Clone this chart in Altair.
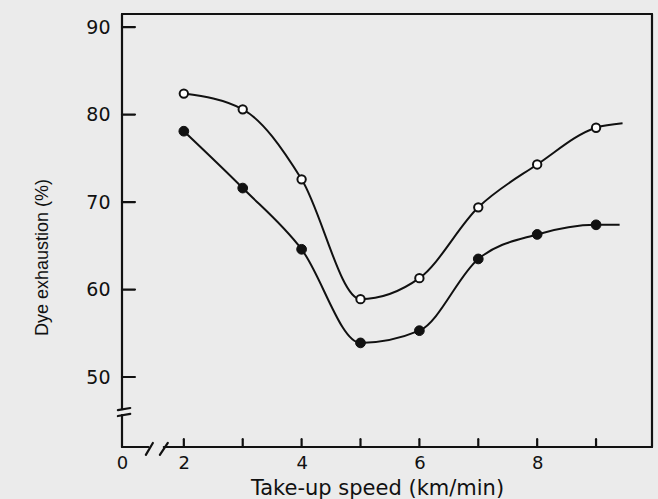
import altair as alt
import pandas as pd

# ---- data ----
speed = [2, 3, 4, 5, 6, 7, 8, 9]
open_vals = [82.4, 80.6, 72.6, 58.9, 61.3, 69.4, 74.3, 78.5]
filled_vals = [78.1, 71.6, 64.6, 53.9, 55.3, 63.5, 66.3, 67.4]
# the drawn curves run a little past the last measured point
open_curve_end = (9.45, 79.0)
filled_curve_end = (9.40, 67.4)

x_tick_values = [2, 3, 4, 5, 6, 7, 8, 9]
x_label_values = [2, 4, 6, 8]
y_tick_values = [50, 60, 70, 80, 90]

X_MIN, X_MAX = 0.95, 9.95
Y_MIN, Y_MAX = 42.0, 91.5
Y_BREAK = (45.66, 46.34)   # gap in the y axis line
X_BREAK = (1.40, 1.66)     # gap in the x axis line

FONT = "DejaVu Sans"
INK = "#111111"
BG = "#ebebeb"

xscale = alt.Scale(domain=[X_MIN, X_MAX], nice=False, zero=False)
yscale = alt.Scale(domain=[Y_MIN, Y_MAX], nice=False, zero=False)

xaxis = alt.Axis(
    values=[X_MIN] + x_label_values,
    labelExpr="datum.value < 1.5 ? '0' : datum.label",
    domain=False, ticks=False, grid=False, labelFlush=False,
    labelFont=FONT, labelFontSize=18, labelColor=INK, labelPadding=7,
    title="Take-up speed (km/min)", titleFont=FONT, titleFontSize=21,
    titleFontWeight="normal", titleColor=INK,
    titleX=255, titleY=47, titleBaseline="alphabetic",
)
yaxis = alt.Axis(
    values=y_tick_values,
    domain=False, ticks=False, grid=False,
    labelFont=FONT, labelFontSize=19, labelColor=INK, labelPadding=12,
    title="Dye exhaustion (%)", titleFont="Liberation Sans", titleFontSize=18,
    titleFontWeight="normal", titleColor=INK,
    titleX=-75, titleY=243, titleBaseline="alphabetic", titleAngle=270,
)


def X(f):
    return alt.X(f"{f}:Q", scale=xscale, axis=xaxis)


def Y(f):
    return alt.Y(f"{f}:Q", scale=yscale, axis=yaxis)


# frame, axis lines with breaks, inward ticks, break marks
segs = []
segs += [
    (X_MIN, X_MIN, Y_MIN, Y_BREAK[0]),
    (X_MIN, X_MIN, Y_BREAK[1], Y_MAX),
    (X_MIN, X_BREAK[0], Y_MIN, Y_MIN),
    (X_BREAK[1], X_MAX, Y_MIN, Y_MIN),
    (X_MIN, X_MAX, Y_MAX, Y_MAX),
    (X_MAX, X_MAX, Y_MIN, Y_MAX),
]
# y-axis break marks
segs += [
    (0.88, 1.09, Y_BREAK[1] - 0.12, Y_BREAK[1] + 0.12),
    (0.88, 1.09, Y_BREAK[0] - 0.12, Y_BREAK[0] + 0.12),
]
# x-axis break marks
segs += [
    (1.355, 1.474, 41.1, 42.46),
    (1.593, 1.728, 41.1, 42.46),
]
# inward ticks
for t in x_tick_values:
    segs.append((t, t, Y_MIN, Y_MIN + 0.9))
for t in y_tick_values:
    segs.append((X_MIN, X_MIN + 0.22, t, t))

seg_df = pd.DataFrame(segs, columns=["x", "x2", "y", "y2"])

rules = alt.Chart(seg_df).mark_rule(color=INK, strokeWidth=2.2, strokeCap="round").encode(
    x=X("x"), x2="x2:Q", y=Y("y"), y2="y2:Q"
)

open_curve = pd.DataFrame({
    "x": speed + [open_curve_end[0]],
    "y": open_vals + [open_curve_end[1]],
})
filled_curve = pd.DataFrame({
    "x": speed + [filled_curve_end[0]],
    "y": filled_vals + [filled_curve_end[1]],
})

line_open = alt.Chart(open_curve).mark_line(
    interpolate="monotone", color=INK, strokeWidth=2
).encode(x=X("x"), y=Y("y"))
line_filled = alt.Chart(filled_curve).mark_line(
    interpolate="monotone", color=INK, strokeWidth=2
).encode(x=X("x"), y=Y("y"))

pts_open = alt.Chart(pd.DataFrame({"x": speed, "y": open_vals})).mark_point(
    shape="circle", filled=True, fill="white", stroke=INK, strokeWidth=2, size=70, opacity=1
).encode(x=X("x"), y=Y("y"))
pts_filled = alt.Chart(pd.DataFrame({"x": speed, "y": filled_vals})).mark_point(
    shape="circle", filled=True, fill=INK, stroke=INK, strokeWidth=1, size=95, opacity=1
).encode(x=X("x"), y=Y("y"))

chart = alt.layer(rules, line_open, line_filled, pts_open, pts_filled).properties(
    width=530,
    height=433,
    padding={"left": 122, "top": 14, "right": 6, "bottom": 52},
    autosize=alt.AutoSizeParams(type="none"),
    background=BG,
).configure_view(stroke=None)

chart.save("out.html", embed_options={"renderer": "svg", "actions": False})
